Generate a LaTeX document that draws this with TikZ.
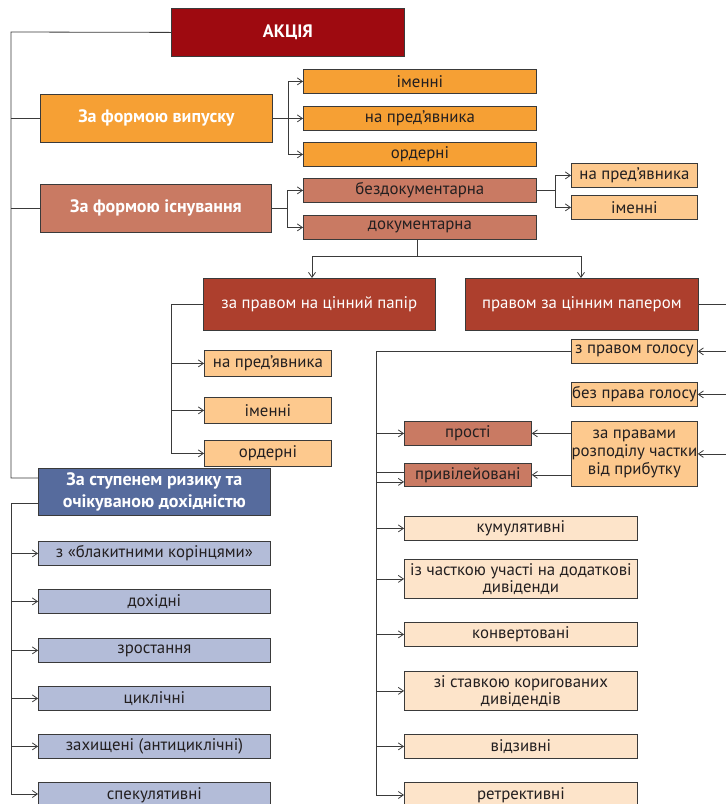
\documentclass[tikz,border=0pt]{standalone}
\usepackage{fontspec}
\setmainfont{PT Sans}
\usetikzlibrary{arrows.meta}
\definecolor{cAk}{HTML}{9E0A10}
\definecolor{cOr}{HTML}{F6A034}
\definecolor{cSal}{HTML}{C97A63}
\definecolor{cPe}{HTML}{FDC98E}
\definecolor{cBr}{HTML}{AD3F2D}
\definecolor{cBl}{HTML}{566B9D}
\definecolor{cLav}{HTML}{B3BCD8}
\definecolor{cLp}{HTML}{FDE4CA}
\definecolor{lineC}{HTML}{3A3A3A}
\definecolor{txtC}{HTML}{231F20}
\tikzset{
 bx/.style={draw=lineC, line width=0.8pt, inner sep=0pt, anchor=north west, align=center,
   font=\fontsize{16.8}{17.5}\selectfont, text=txtC},
 hd/.style={bx, text=white, font=\fontsize{18}{21.5}\selectfont\bfseries},
 wt/.style={bx, text=white, font=\fontsize{16.8}{19}\selectfont},
 conn/.style={draw=lineC, line width=0.8pt},
 arr/.style={conn, -{Straight Barb[length=5pt,width=7pt,line width=0.8pt]}},
}
\begin{document}
\begin{tikzpicture}[x=1pt,y=-1pt]
\useasboundingbox (0,0) rectangle (726,804);
\clip (0,0) rectangle (726,804);
% top level
\node[hd, fill=cAk, minimum width=233, minimum height=48] (akc) at (171,8) {АКЦІЯ};
\node[hd, fill=cOr, minimum width=232, minimum height=48] (vyp) at (40,94) {За формою випуску};
\node[bx, fill=cOr, minimum width=233, minimum height=24] (im1) at (303,69) {іменні};
\node[bx, fill=cOr, minimum width=233, minimum height=24] (pr1) at (303,106) {на пред’явника};
\node[bx, fill=cOr, minimum width=233, minimum height=24] (ord1) at (303,142) {ордерні};
\node[hd, fill=cSal, minimum width=231, minimum height=48] (isn) at (40,184) {За формою існування};
\node[bx, fill=cSal, minimum width=233, minimum height=24] (bez) at (303,178) {бездокументарна};
\node[bx, fill=cSal, minimum width=233, minimum height=24] (dok) at (303,215) {документарна};
\node[bx, fill=cPe, minimum width=126, minimum height=24] (pr2) at (571,163) {на пред’явника};
\node[bx, fill=cPe, minimum width=126, minimum height=24] (im2) at (571,195) {іменні};
% documentary
\node[wt, fill=cBr, minimum width=232, minimum height=52] (zpr) at (203,278) {за правом на цінний папір};
\node[wt, fill=cBr, minimum width=233, minimum height=52] (pzp) at (465,278) {правом за цінним папером};
\node[bx, fill=cPe, minimum width=127, minimum height=26] (pr3) at (204,350) {на пред’явника};
\node[bx, fill=cPe, minimum width=127, minimum height=26] (im3) at (204,397) {іменні};
\node[bx, fill=cPe, minimum width=127, minimum height=26] (ord3) at (204,440) {ордерні};
\node[bx, fill=cPe, minimum width=126, minimum height=24] (zpg) at (571,339) {з правом голосу};
\node[bx, fill=cPe, minimum width=126, minimum height=24] (bpg) at (571,382) {без права голосу};
\node[bx, fill=cPe, minimum width=126, minimum height=65, font=\fontsize{16.8}{18.3}\selectfont] (zpp) at (571,421) {за правами\\розподілу частки\\від прибутку};
\node[bx, fill=cSal, minimum width=127, minimum height=24] (prs) at (404,421) {прості};
\node[bx, fill=cSal, minimum width=127, minimum height=23] (prv) at (404,463) {привілейовані};
\node[bx, fill=cLp, minimum width=233, minimum height=24] (kum) at (404,516) {кумулятивні};
\node[bx, fill=cLp, minimum width=233, minimum height=39] (chast) at (404,559) {із часткою участі на додаткові\\дивіденди};
\node[bx, fill=cLp, minimum width=233, minimum height=24] (konv) at (404,622) {конвертовані};
\node[bx, fill=cLp, minimum width=233, minimum height=39] (stav) at (404,671) {зі ставкою коригованих\\дивідендів};
\node[bx, fill=cLp, minimum width=233, minimum height=24] (vidz) at (404,734) {відзивні};
\node[bx, fill=cLp, minimum width=233, minimum height=26] (retr) at (404,782) {ретрективні};
% risk
\node[hd, fill=cBl, minimum width=232, minimum height=47] (ris) at (38,468) {За ступенем ризику та\\очікуваною дохідністю};
\node[bx, fill=cLav, minimum width=232, minimum height=24] (bl) at (38,541) {з «блакитними корінцями»};
\node[bx, fill=cLav, minimum width=232, minimum height=24] (doh) at (38,589) {дохідні};
\node[bx, fill=cLav, minimum width=232, minimum height=24] (zr) at (38,638) {зростання};
\node[bx, fill=cLav, minimum width=232, minimum height=24] (cyk) at (38,686) {циклічні};
\node[bx, fill=cLav, minimum width=232, minimum height=24] (zah) at (38,734) {захищені (антициклічні)};
\node[bx, fill=cLav, minimum width=232, minimum height=26] (spek) at (38,782) {спекулятивні};
% ---- connectors
% main left trunk
\coordinate (t0) at (11,32);
\coordinate (t1) at (11,478);
\draw[conn] (akc.west) -- (t0) -- (t1) -- (t1 -| ris.west);
\draw[conn] (t0 |- vyp.west) -- (vyp.west);
\draw[conn] (t0 |- isn.west) -- (isn.west);
% form of issue
\coordinate (f1) at (288,0);
\draw[conn] (vyp.east) -- (f1 |- vyp.east);
\draw[conn] (f1 |- im1.west) -- (f1 |- ord1.west);
\foreach \n in {im1,pr1,ord1} \draw[arr] (f1 |- \n.west) -- (\n.west);
% form of existence
\coordinate (f2) at (287,0);
\draw[conn] (isn.east) -- (f2 |- isn.east);
\draw[conn] (f2 |- bez.west) -- (f2 |- dok.west);
\foreach \n in {bez,dok} \draw[arr] (f2 |- \n.west) -- (\n.west);
\coordinate (f3) at (555,0);
\draw[conn] (bez.east) -- (f3 |- bez.east);
\draw[conn] (f3 |- pr2.west) -- (f3 |- im2.west);
\foreach \n in {pr2,im2} \draw[arr] (f3 |- \n.west) -- (\n.west);
% documentary split
\coordinate (d0) at (417,256);
\coordinate (dl) at (312,256);
\coordinate (dr) at (581,256);
\draw[conn] (dok.south -| d0) -- (d0);
\draw[conn] (dl) -- (dr);
\draw[arr] (dl) -- (dl |- zpr.north);
\draw[arr] (dr) -- (dr |- pzp.north);
% za pravom na tsinnyi papir
\coordinate (f4) at (171,0);
\draw[conn] (zpr.west) -- (f4 |- zpr.west) -- (f4 |- ord3.west);
\foreach \n in {pr3,im3,ord3} \draw[arr] (f4 |- \n.west) -- (\n.west);
% pravom za tsinnym paperom
\coordinate (f5) at (745,0);
\draw[conn] (pzp.east) -- (f5 |- pzp.east) -- (f5 |- zpp.east);
\foreach \n in {zpg,bpg,zpp} \draw[arr] (f5 |- \n.east) -- (\n.east);
% voting rights to prosti / pryvileiovani
\coordinate (f6) at (376,0);
\coordinate (pv1) at ([yshift=-7pt]prv.west);
\draw[conn] (zpg.west) -- (f6 |- zpg.west) -- (f6 |- pv1);
\draw[arr] (f6 |- prs.west) -- (prs.west);
\draw[arr] (f6 |- pv1) -- (pv1);
\draw[arr] (zpp.west |- prs.east) -- (prs.east);
\draw[arr] (zpp.west |- prv.east) -- (prv.east);
% preferred types
\coordinate (pv2) at ([yshift=3pt]prv.west);
\draw[conn] (pv2) -- (f6 |- pv2) -- (f6 |- retr.west);
\foreach \n in {kum,chast,konv,stav,vidz} \draw[arr] (f6 |- \n.west) -- (\n.west);
\draw[arr] (f6 |- 0,795) -- (retr.west |- 0,795);
% risk
\coordinate (f7) at (11,503);
\draw[conn] (f7 -| ris.west) -- (f7) -- (f7 |- 0,794);
\foreach \n in {bl,doh,zr,cyk,zah} \draw[arr] (f7 |- \n.west) -- (\n.west);
\draw[arr] (f7 |- 0,794) -- (spek.west |- 0,794);
\end{tikzpicture}
\end{document}
